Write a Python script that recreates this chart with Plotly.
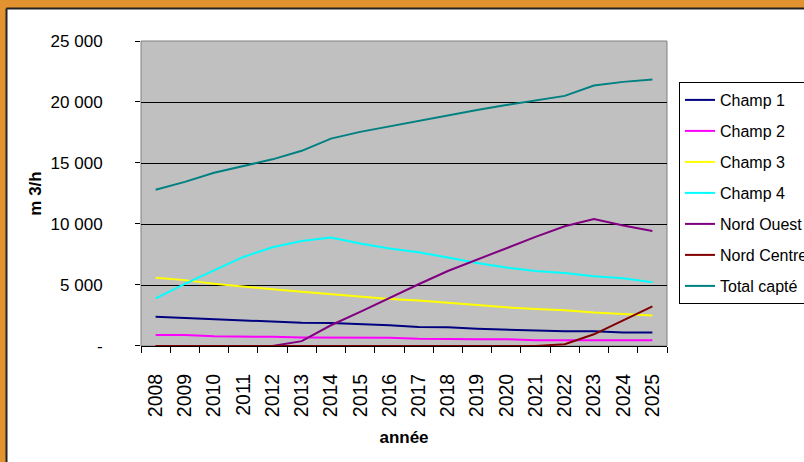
import plotly.graph_objects as go

years = [2008, 2009, 2010, 2011, 2012, 2013, 2014, 2015, 2016,
         2017, 2018, 2019, 2020, 2021, 2022, 2023, 2024, 2025]
year_labels = [str(y) for y in years]
champ1 = [2400, 2300, 2200, 2100, 2000, 1900, 1880, 1800, 1700, 1560, 1530, 1420, 1340, 1310, 1200, 1200, 1100, 1100]
champ2 = [900, 900, 800, 800, 750, 700, 700, 700, 680, 600, 550, 550, 550, 480, 480, 480, 480, 480]
champ3 = [5600, 5400, 5100, 4850, 4650, 4450, 4250, 4000, 3850, 3720, 3530, 3360, 3170, 3030, 2930, 2740, 2600, 2490]
champ4 = [3900, 5100, 6200, 7300, 8100, 8600, 8900, 8400, 8000, 7680, 7250, 6800, 6430, 6150, 5990, 5710, 5550, 5220]
nord_ouest = [0, 0, 0, 0, 0, 400, 1700, 2800, 3950, 5060, 6150, 7080, 8040, 8940, 9810, 10410, 9870, 9430]
nord_centre = [0, 0, 0, 0, 0, 0, 0, 0, 0, 0, 0, 0, 0, 0, 150, 960, 2100, 3250]
total_capte = [12800, 13450, 14200, 14750, 15300, 16000, 17000, 17550, 18000, 18450, 18950, 19350, 19750, 20100, 20500, 21350, 21650, 21850]

series_names = ["Champ 1", "Champ 2", "Champ 3", "Champ 4", "Nord Ouest", "Nord Centre", "Total capté"]
series_values = [champ1, champ2, champ3, champ4, nord_ouest, nord_centre, total_capte]
series_colors = ["#000080", "#FF00FF", "#FFFF00", "#00FFFF", "#800080", "#800000", "#008080"]

y_tickvals = [0, 5000, 10000, 15000, 20000, 25000]
y_ticktext = ["-", "5 000", "10 000", "15 000", "20 000", "25 000"]

SANS = "Liberation Sans, Arial, sans-serif"

fig = go.Figure()
for i, (name, vals, col) in enumerate(zip(series_names, series_values, series_colors)):
    fig.add_trace(go.Scatter(x=years, y=vals, name=name, mode="lines",
                             line=dict(color=col, width=2), legendgroup=f"g{i}"))

# geometry (pixels)
W, H = 804, 462
L, R, T, B = 141, 667, 41, 346
pw, ph = R - L, B - T

def px(x):
    return (x - L) / pw

def py(y):
    return (B - y) / ph

# visible short tick marks: category boundaries on x, value ticks on y (minor ticks)
x_bound_ticks = [y - 0.5 for y in years] + [years[-1] + 0.5]
y_short_ticks = [v + 10 for v in y_tickvals[:-1]] + [y_tickvals[-1] - 10]

orange = "#E2922E"
shapes = [
    dict(type="rect", xref="paper", yref="paper", x0=-1, x1=2, y0=py(9), y1=2,
         fillcolor=orange, line=dict(width=0), layer="above"),
    dict(type="rect", xref="paper", yref="paper", x0=-1, x1=px(7), y0=-2, y1=2,
         fillcolor=orange, line=dict(width=0), layer="above"),
    dict(type="line", xref="paper", yref="paper", x0=px(6.5), x1=2, y0=py(8.5), y1=py(8.5),
         line=dict(color="#222222", width=2), layer="above"),
    dict(type="line", xref="paper", yref="paper", x0=px(6.5), x1=px(6.5), y0=-2, y1=py(8.5),
         line=dict(color="#222222", width=2), layer="above"),
    dict(type="rect", xref="paper", yref="paper", x0=0, x1=1, y0=0, y1=1,
         line=dict(color="#808080", width=1), layer="below"),
]

fig.update_layout(
    width=W, height=H,
    margin=dict(l=L, r=W - R, t=T, b=H - B, autoexpand=False),
    paper_bgcolor="white",
    plot_bgcolor="#C0C0C0",
    font=dict(family=SANS, color="black", size=16),
    showlegend=True,
    legend=dict(x=px(679), y=py(82), xanchor="left", yanchor="top",
                bgcolor="white", bordercolor="black", borderwidth=1,
                font=dict(family=SANS, size=16, color="black"),
                tracegroupgap=7.2, traceorder="grouped"),
    shapes=shapes,
    xaxis=dict(range=[years[0] - 0.5, years[-1] + 0.5],
               tickmode="array", tickvals=years, ticktext=year_labels,
               ticks="outside", ticklen=19, tickcolor="rgba(0,0,0,0)",
               minor=dict(tickmode="array", tickvals=x_bound_ticks, ticks="outside",
                          ticklen=6, tickcolor="black", tickwidth=1, showgrid=False),
               showgrid=False, zeroline=False, showline=True, linecolor="black", linewidth=1,
               layer="below traces",
               tickangle=-90,
               tickfont=dict(family=SANS, size=19.5),
               title=dict(text="<b>année</b>", font=dict(family=SANS, size=17), standoff=14)),
    yaxis=dict(range=[0, 25000], tickmode="array", tickvals=y_tickvals, ticktext=y_ticktext,
               ticks="outside", ticklen=34, tickcolor="rgba(0,0,0,0)",
               minor=dict(tickmode="array", tickvals=y_short_ticks, ticks="outside",
                          ticklen=5, tickcolor="black", tickwidth=1, showgrid=False),
               showgrid=True, gridcolor="black", gridwidth=1,
               showline=False, zeroline=False, layer="below traces",
               tickfont=dict(family=SANS, size=17),
               title=dict(text="<b>m 3/h</b>", font=dict(family=SANS, size=17), standoff=4)),
)

fig.write_html("out.html", config={"displayModeBar": False},
               post_script="document.body.style.margin='0';")
